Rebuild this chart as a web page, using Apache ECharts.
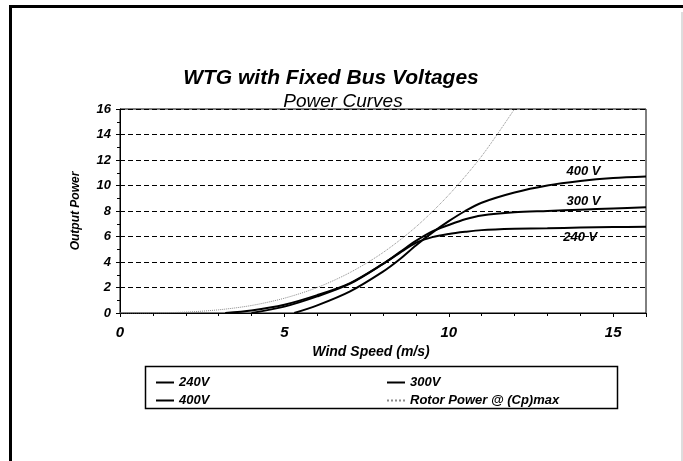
<!DOCTYPE html>
<html>
<head>
<meta charset="utf-8">
<script src="https://cdn.jsdelivr.net/npm/echarts@6/dist/echarts.min.js"></script>
<style>
  html, body { margin: 0; padding: 0; background: #fff; }
  #chart { width: 683px; height: 461px; }
</style>
</head>
<body>
<div id="chart"></div>
<script>
// wind speed (m/s) / output power
const speed240 = [3.2, 4, 5, 6, 7, 8, 8.5, 9, 9.5, 10, 10.5, 11, 12, 13, 14, 15, 16];
const power240 = [0, 0.2, 0.65, 1.4, 2.35, 3.85, 4.7, 5.5, 5.95, 6.2, 6.37, 6.5, 6.6, 6.65, 6.7, 6.74, 6.77];

const speed300 = [4, 5, 6, 7, 8, 8.5, 9, 9.5, 10, 10.5, 11, 12, 13, 14, 15, 16];
const power300 = [0, 0.5, 1.3, 2.3, 3.85, 4.75, 5.65, 6.4, 6.9, 7.35, 7.65, 7.9, 8.0, 8.1, 8.2, 8.3];

const speed400 = [5.3, 6, 7, 8, 8.5, 9, 9.5, 10, 10.5, 11, 12, 13, 14, 15, 16];
const power400 = [0, 0.6, 1.7, 3.25, 4.2, 5.3, 6.3, 7.2, 8.0, 8.65, 9.45, 10.0, 10.35, 10.58, 10.7];

const speedRotor = [0, 1, 2, 3, 4, 5, 6, 7, 8, 9, 10, 11, 12];
const powerRotor = [0, 0.01, 0.07, 0.25, 0.59, 1.16, 2.0, 3.18, 4.74, 6.75, 9.26, 12.3, 16];

const seriesNames = ['240V', '300V', '400V', 'Rotor Power @ (Cp)max'];
// curve labels inside the plot: [text, speed, power]
const curveLabels = [['240 V', 14.0, 5.92], ['300 V', 14.1, 8.78], ['400 V', 14.1, 11.14]];

const font = 'Liberation Sans, Arial, sans-serif';

function pairs(xs, ys) {
  return xs.map((x, i) => [x, ys[i]]);
}

function curveLabel(i) {
  const l = curveLabels[i];
  return {
    silent: true,
    symbol: 'circle',
    symbolSize: 0,
    label: {
      show: true,
      position: 'inside',
      formatter: l[0],
      color: '#000',
      fontFamily: font,
      fontSize: 13,
      fontWeight: 'bold',
      fontStyle: 'italic'
    },
    data: [{ coord: [l[1], l[2]] }]
  };
}

const legendText = { fontFamily: font, fontSize: 13, fontWeight: 'bold', fontStyle: 'italic', color: '#000' };

const chart = echarts.init(document.getElementById('chart'));

const option = {
  animation: false,
  backgroundColor: '#fff',
  title: [
    {
      text: 'WTG with Fixed Bus Voltages',
      left: 326,
      top: 63,
      textAlign: 'center',
      textStyle: { fontFamily: font, fontSize: 21, fontWeight: 'bold', fontStyle: 'italic', color: '#000' }
    },
    {
      text: 'Power Curves',
      left: 338,
      top: 87,
      textAlign: 'center',
      textStyle: { fontFamily: font, fontSize: 19, fontWeight: 'normal', fontStyle: 'italic', color: '#000' }
    }
  ],
  grid: {
    left: 120,
    right: 37,
    top: 109,
    bottom: 148,
    show: true,
    borderColor: '#000',
    borderWidth: 1,
    containLabel: false
  },
  legend: [
    {
      data: [seriesNames[0], seriesNames[2]],
      orient: 'vertical',
      left: 150,
      top: 371,
      itemWidth: 18,
      itemHeight: 12,
      itemGap: 5,
      itemStyle: { opacity: 0 },
      textStyle: legendText
    },
    {
      data: [seriesNames[1], seriesNames[3]],
      orient: 'vertical',
      left: 381,
      top: 371,
      itemWidth: 18,
      itemHeight: 12,
      itemGap: 5,
      itemStyle: { opacity: 0 },
      textStyle: legendText
    }
  ],
  xAxis: {
    type: 'value',
    min: 0,
    max: 16,
    interval: 5,
    name: 'Wind Speed (m/s)',
    nameLocation: 'middle',
    nameGap: 32,
    nameTextStyle: { fontFamily: font, fontSize: 14, fontWeight: 'bold', fontStyle: 'italic', color: '#000', padding: [0, 24, 0, 0] },
    axisLine: { show: true, lineStyle: { color: '#000', width: 1 } },
    axisTick: { show: true, length: 4, lineStyle: { color: '#000' } },
    minorTick: { show: true, splitNumber: 5, length: 3, lineStyle: { color: '#000' } },
    axisLabel: {
      showMaxLabel: false,
      margin: 12,
      fontFamily: font, fontSize: 15, fontWeight: 'bold', fontStyle: 'italic', color: '#000'
    },
    splitLine: { show: false }
  },
  yAxis: {
    type: 'value',
    min: 0,
    max: 16,
    interval: 2,
    name: 'Output Power',
    nameLocation: 'middle',
    nameGap: 38,
    nameTextStyle: { fontFamily: font, fontSize: 12, fontWeight: 'bold', fontStyle: 'italic', color: '#000' },
    axisLine: { show: true, lineStyle: { color: '#000', width: 1 } },
    axisTick: { show: true, length: 4, lineStyle: { color: '#000' } },
    minorTick: { show: true, splitNumber: 2, length: 3, lineStyle: { color: '#000' } },
    axisLabel: {
      margin: 9,
      fontFamily: font, fontSize: 13, fontWeight: 'bold', fontStyle: 'italic', color: '#000'
    },
    splitLine: { show: true, lineStyle: { color: '#000', width: 1, type: [5, 3] } }
  },
  series: [
    {
      name: seriesNames[0],
      type: 'line',
      data: pairs(speed240, power240),
      smooth: 0.3,
      symbol: 'none',
      lineStyle: { color: '#000', width: 2 },
      itemStyle: { color: '#000' },
      markPoint: curveLabel(0)
    },
    {
      name: seriesNames[1],
      type: 'line',
      data: pairs(speed300, power300),
      smooth: 0.3,
      symbol: 'none',
      lineStyle: { color: '#000', width: 2 },
      itemStyle: { color: '#000' },
      markPoint: curveLabel(1)
    },
    {
      name: seriesNames[2],
      type: 'line',
      data: pairs(speed400, power400),
      smooth: 0.3,
      symbol: 'none',
      lineStyle: { color: '#000', width: 2 },
      itemStyle: { color: '#000' },
      markPoint: curveLabel(2)
    },
    {
      name: seriesNames[3],
      type: 'line',
      data: pairs(speedRotor, powerRotor),
      smooth: 0.3,
      symbol: 'none',
      lineStyle: { color: '#8a8a8a', width: 1, type: 'dotted' },
      itemStyle: { color: '#8a8a8a' }
    }
  ],
  graphic: [
    // page frame: heavy top and left edges, faint right edge
    { type: 'rect', shape: { x: 9, y: 5, width: 674, height: 3 }, style: { fill: '#000' }, silent: true },
    { type: 'rect', shape: { x: 9, y: 5, width: 3, height: 456 }, style: { fill: '#000' }, silent: true },
    { type: 'line', shape: { x1: 682, y1: 12, x2: 682, y2: 461 }, style: { stroke: '#bbb', lineWidth: 1 }, silent: true },
    // legend box
    { type: 'rect', shape: { x: 145.5, y: 366.5, width: 472, height: 42 }, style: { fill: 'none', stroke: '#000', lineWidth: 1.5 }, silent: true }
  ]
};

chart.setOption(option);
</script>
</body>
</html>
